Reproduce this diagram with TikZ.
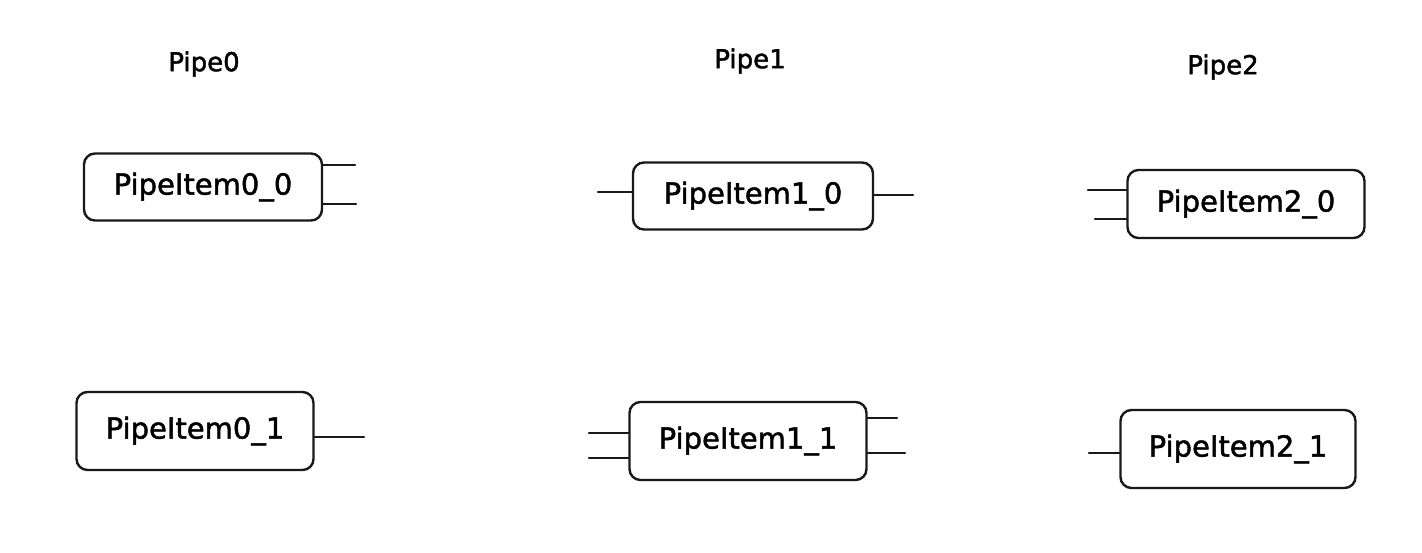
\documentclass[tikz,border=0pt]{standalone}
\usepackage{fontspec}
\setmainfont{DejaVu Sans}
\newfontfamily\handfont{DejaVu Sans}[RawFeature={embolden=1.6}]
\begin{document}
\begin{tikzpicture}[x=1pt,y=-1pt,
  itembox/.style={draw=black!90,line width=2.4pt,rounded corners=11pt,
    minimum width=237pt,minimum height=70pt,inner sep=0pt,
    font=\handfont\fontsize{29}{32}\selectfont},
  pipetitle/.style={font=\handfont\fontsize{26}{29}\selectfont},
  stub/.style={draw=black!90,line width=2.2pt,line cap=round}]
\useasboundingbox[fill=white] (0,0) rectangle (1422,552);
% titles
\node[pipetitle] (t0) at (204,64) {Pipe0};
\node[pipetitle] (t1) at (750,61) {Pipe1};
\node[pipetitle] (t2) at (1223,67) {Pipe2};
% boxes
\node[itembox,minimum width=238pt,minimum height=67pt] (n00) at (203,187) {PipeItem0\_0};
\node[itembox,minimum width=240pt,minimum height=67pt] (n10) at (753,196) {PipeItem1\_0};
\node[itembox,minimum width=237pt,minimum height=68pt] (n20) at (1246,204) {PipeItem2\_0};
\node[itembox,minimum width=237pt,minimum height=78pt] (n01) at (195,431) {PipeItem0\_1};
\node[itembox,minimum width=237pt,minimum height=78pt] (n11) at (748,441) {PipeItem1\_1};
\node[itembox,minimum width=235pt,minimum height=78pt] (n21) at (1238,449) {PipeItem2\_1};
% stub ends
\coordinate (a1) at (355,165);
\coordinate (a2) at (356,204);
\coordinate (b1) at (598,192);
\coordinate (b2) at (913,195);
\coordinate (c1) at (1088,190);
\coordinate (c2) at (1095,219);
\coordinate (d1) at (364,437);
\coordinate (e1) at (589,433);
\coordinate (e2) at (589,458);
\coordinate (e3) at (897,418);
\coordinate (e4) at (905,453);
\coordinate (f1) at (1089,453);
% stubs
\draw[stub] (n00.east |- a1) -- (a1);
\draw[stub] (n00.east |- a2) -- (a2);
\draw[stub] (n10.west |- b1) -- (b1);
\draw[stub] (n10.east |- b2) -- (b2);
\draw[stub] (n20.west |- c1) -- (c1);
\draw[stub] (n20.west |- c2) -- (c2);
\draw[stub] (n01.east |- d1) -- (d1);
\draw[stub] (n11.west |- e1) -- (e1);
\draw[stub] (n11.west |- e2) -- (e2);
\draw[stub] (n11.east |- e3) -- (e3);
\draw[stub] (n11.east |- e4) -- (e4);
\draw[stub] (n21.west |- f1) -- (f1);
\end{tikzpicture}
\end{document}
